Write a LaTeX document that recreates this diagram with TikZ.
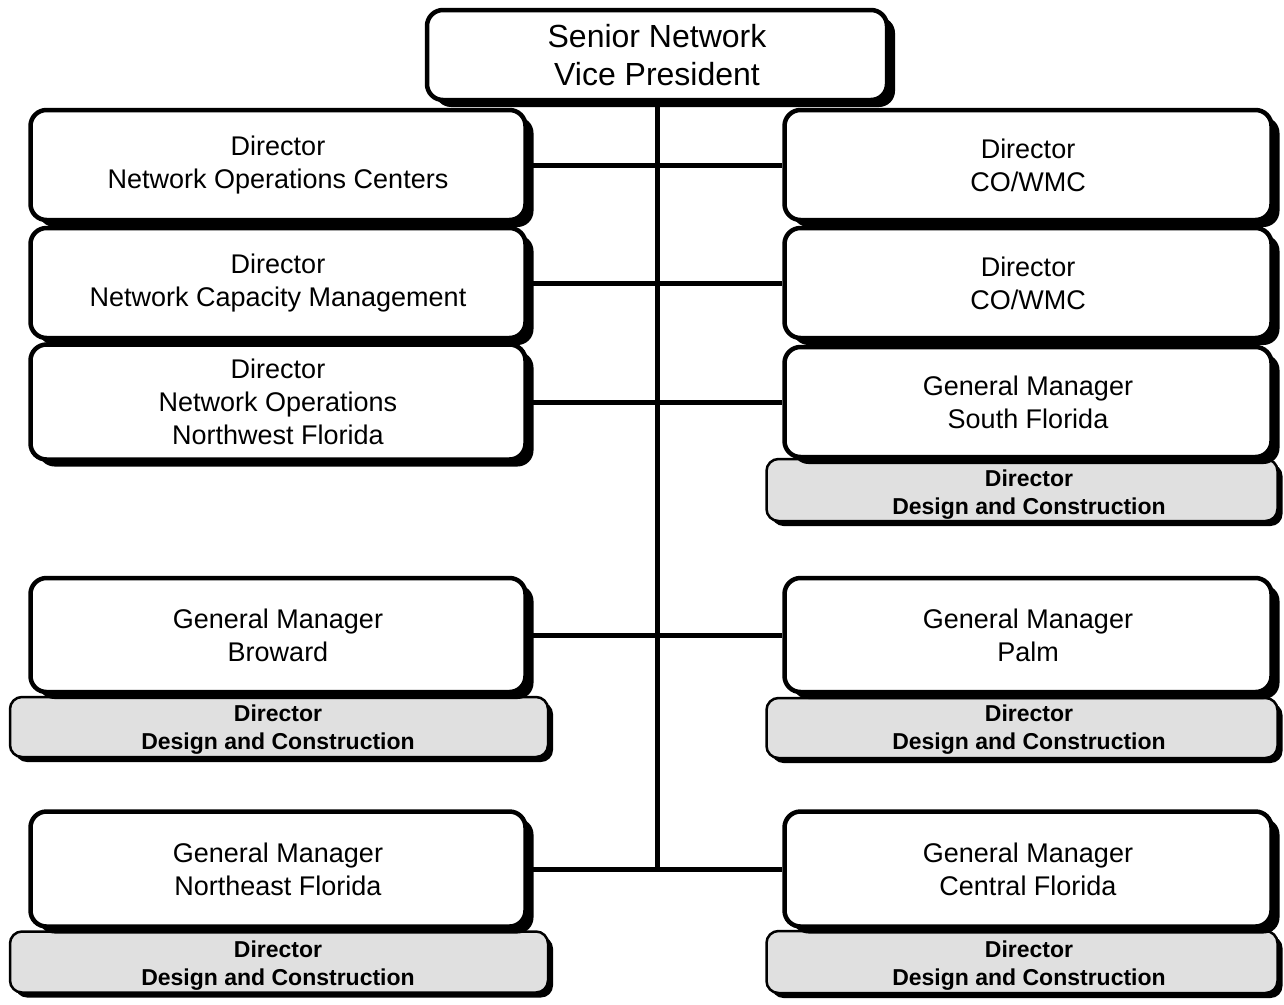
\documentclass[tikz,border=0pt]{standalone}
\usepackage{fontspec}
\setmainfont{Liberation Sans}
\usetikzlibrary{shadows}
\tikzset{
  unitbox/.style={draw=black, line width=4.5pt, fill=white, rounded corners=16pt,
    inner sep=0pt, align=center, font=\fontsize{27}{33}\selectfont,
    drop shadow={shadow xshift=8pt, shadow yshift=-7pt, fill=black, opacity=1}},
  headbox/.style={unitbox, font=\fontsize{32}{38}\selectfont},
  subbox/.style={draw=black, line width=2.5pt, fill=black!12, rounded corners=12pt,
    inner sep=0pt,
    drop shadow={shadow xshift=5pt, shadow yshift=-5pt, fill=black, opacity=1}},
  subtext/.style={inner sep=0pt, align=center, font=\bfseries\fontsize{23}{28}\selectfont},
  link/.style={line width=5pt},
}
\begin{document}
\begin{tikzpicture}[x=1pt, y=-1pt]
\useasboundingbox (0,0) rectangle (1284,1004);

% design and construction sub-units (drawn first, parent boxes overlap them)
\node[subbox, minimum width=538pt, minimum height=60pt] (bwdc) at (279,727) {};
\node[subbox, minimum width=538pt, minimum height=61pt] (nedc) at (279,962) {};
\node[subbox, minimum width=511pt, minimum height=62pt] (sfdc) at (1022,490) {};
\node[subbox, minimum width=511pt, minimum height=60pt] (pmdc) at (1022,728) {};
\node[subbox, minimum width=511pt, minimum height=62pt] (cfdc) at (1022,962) {};

\node[subtext] (bwdct) at (278,730) {Director\\Design and Construction};
\node[subtext] (nedct) at (278,966) {Director\\Design and Construction};
\node[subtext] (sfdct) at (1029,495) {Director\\Design and Construction};
\node[subtext] (pmdct) at (1029,730) {Director\\Design and Construction};
\node[subtext] (cfdct) at (1029,966) {Director\\Design and Construction};

% head of the organisation
\node[headbox, minimum width=460pt, minimum height=90pt] (svp) at (657,55)
  {Senior Network\\Vice President};

% left column
\node[unitbox, minimum width=495pt, minimum height=110pt] (noc) at (278,165)
  {Director\\Network Operations Centers};
\node[unitbox, minimum width=495pt, minimum height=110pt] (ncm) at (278,283)
  {Director\\Network Capacity Management};
\node[unitbox, minimum width=495pt, minimum height=115pt] (nwf) at (278,402)
  {Director\\Network Operations\\Northwest Florida};
\node[unitbox, minimum width=495pt, minimum height=114pt] (bw) at (278,635)
  {General Manager\\Broward};
\node[unitbox, minimum width=495pt, minimum height=115pt] (ne) at (278,869)
  {General Manager\\Northeast Florida};

% right column
\node[unitbox, minimum width=487pt, minimum height=110pt] (cw1) at (1028,165)
  {Director\\CO/WMC};
\node[unitbox, minimum width=487pt, minimum height=110pt] (cw2) at (1028,283)
  {Director\\CO/WMC};
\node[unitbox, minimum width=487pt, minimum height=110pt] (sf) at (1028,402)
  {General Manager\\South Florida};
\node[unitbox, minimum width=487pt, minimum height=114pt] (pm) at (1028,635)
  {General Manager\\Palm};
\node[unitbox, minimum width=487pt, minimum height=115pt] (cf) at (1028,869)
  {General Manager\\Central Florida};

% reporting lines
\draw[link] (svp.south) -- (svp.south |- ne.east);
\draw[link] (noc.east) -- (cw1.west);
\draw[link] (ncm.east) -- (cw2.west);
\draw[link] (nwf.east) -- (sf.west);
\draw[link] (bw.east) -- (pm.west);
\draw[link] (ne.east) -- (cf.west);
\end{tikzpicture}
\end{document}
